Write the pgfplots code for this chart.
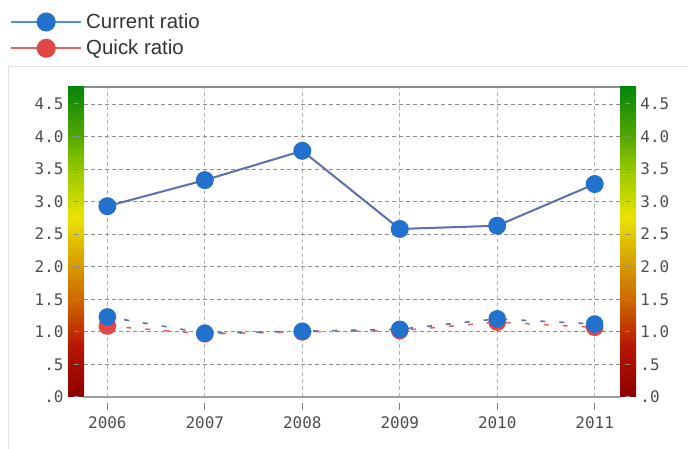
\documentclass[border=0pt]{standalone}
\usepackage{pgfplots}
\pgfplotsset{compat=1.18}
\usepackage{fontspec}
\setmainfont{Liberation Sans}
\newfontfamily\tickfont{DejaVu Sans Mono}

\definecolor{curline}{HTML}{5A6FAE}
\definecolor{curmark}{HTML}{2271CC}
\definecolor{legblue}{HTML}{4A8FDB}
\definecolor{quickline}{HTML}{E86060}
\definecolor{quickmark}{HTML}{E04848}
\definecolor{gridc}{HTML}{8E8E8E}
\definecolor{vgridc}{HTML}{B4B4B4}
\definecolor{framec}{HTML}{8C8C8C}
\definecolor{panelc}{HTML}{E2E2E2}
\definecolor{labelc}{HTML}{4D4D4D}
\definecolor{legtext}{HTML}{333333}

% red -> orange -> yellow -> green, fitted to 0 .. 4.76
\pgfdeclareverticalshading{ratiobar}{100bp}{
  rgb(0bp)=(0.55,0,0); rgb(25bp)=(0.55,0,0);
  rgb(33bp)=(0.72,0.08,0); rgb(40bp)=(0.80,0.38,0);
  rgb(46bp)=(0.84,0.60,0); rgb(54bp)=(0.91,0.89,0);
  rgb(61bp)=(0.62,0.80,0); rgb(67bp)=(0.33,0.66,0);
  rgb(75bp)=(0.02,0.52,0.04); rgb(100bp)=(0.02,0.52,0.04)}

\pgfplotstableread{
year current quick quickb
2006 2.93 1.09 1.23
2007 3.33 0.97 0.98
2008 3.78 1.00 1.01
2009 2.58 1.02 1.04
2010 2.63 1.15 1.20
2011 3.27 1.07 1.12
}\ratios

\pgfplotsset{
  ratioaxis/.style={
    at={(84bp,52bp)}, anchor=south west,
    scale only axis, width=536bp, height=310bp,
    xmin=2005.76, xmax=2011.26, ymin=0, ymax=4.76,
    axis line style={draw=none},
    ytick={0,0.5,1,1.5,2,2.5,3,3.5,4,4.5},
    yticklabels={.0,.5,1.0,1.5,2.0,2.5,3.0,3.5,4.0,4.5},
    tick align=outside,
    ticklabel style={font=\tickfont\fontsize{16}{16}\selectfont, text=labelc},
  },
}

\begin{document}
\begin{tikzpicture}
\path[use as bounding box] (0bp,0bp) rectangle (688bp,449bp);
% panel
\draw[panelc, line width=1bp] (8bp,-5bp) -- (8bp,382bp) -- (700bp,382bp);
% colour bars
\shade[shading=ratiobar] (68bp,52bp) rectangle (84bp,362bp);
\shade[shading=ratiobar] (620bp,52bp) rectangle (636bp,362bp);

\begin{axis}[ratioaxis,
  xtick={2006,2007,2008,2009,2010,2011},
  xticklabels={2006,2007,2008,2009,2010,2011},
  xtick pos=bottom,
  xtick style={draw=labelc!70, line width=1bp, solid, yshift=-6bp},
  ytick style={draw=none},
  major tick length=7bp,
  x tick label style={yshift=-9bp},
  yticklabel style={xshift=-10bp},
  grid=major,
  y grid style={gridc, line width=0.8bp, dash pattern=on 4bp off 3bp},
  x grid style={vgridc, line width=0.8bp, dash pattern=on 4bp off 3bp},
  legend style={at={(-0.138,1.243)}, anchor=north west, draw=none, fill=none,
    font=\fontsize{20.5}{24}\selectfont, text=legtext, inner sep=0pt,
    row sep=6bp, cells={anchor=west}},
  legend image code/.code={\draw[mark repeat=2, mark phase=2, #1]
    plot coordinates {(0bp,0bp) (35bp,0bp) (70bp,0bp)};},
]
\addlegendimage{legblue, line width=2bp, mark=*, mark size=8.5bp,
  mark options={fill=curmark, draw=curmark}}
\addlegendentry{\hspace{2bp}Current ratio}
\addlegendimage{quickline, line width=2bp, mark=*, mark size=8.5bp,
  mark options={fill=quickmark, draw=quickmark}}
\addlegendentry{\hspace{2bp}Quick ratio}

\addplot[forget plot, quickline, line width=1.6bp, dash pattern=on 5bp off 14bp,
  mark=*, mark size=8bp, mark options={solid, fill=quickmark, draw=quickmark}]
  table[x=year, y=quick] {\ratios};
\addplot[forget plot, curline, line width=1.6bp, dash pattern=on 5bp off 14bp,
  dash phase=2bp,
  mark=*, mark size=8bp, mark options={solid, fill=curmark, draw=curmark}]
  table[x=year, y=quickb] {\ratios};
\addplot[forget plot, curline, line width=2bp,
  mark=*, mark size=8bp, mark options={fill=curmark, draw=curmark}]
  table[x=year, y=current] {\ratios};
\end{axis}

% second axis: tick labels on the right, and the dashes across both bars
\begin{axis}[ratioaxis, xtick=\empty, ytick pos=both, yticklabel pos=right,
  yticklabel style={xshift=1bp},
  major tick length=16bp,
  ytick style={draw=black!45, line width=1bp,
    dash pattern=on 5bp off 11bp, dash phase=10.5bp}]
\end{axis}

% frame lines
\draw[framec, line width=1.2bp] (84bp,362bp) -- (620bp,362bp);
\draw[framec!85, line width=2bp] (84bp,52bp) -- (620bp,52bp);
\end{tikzpicture}
\end{document}
